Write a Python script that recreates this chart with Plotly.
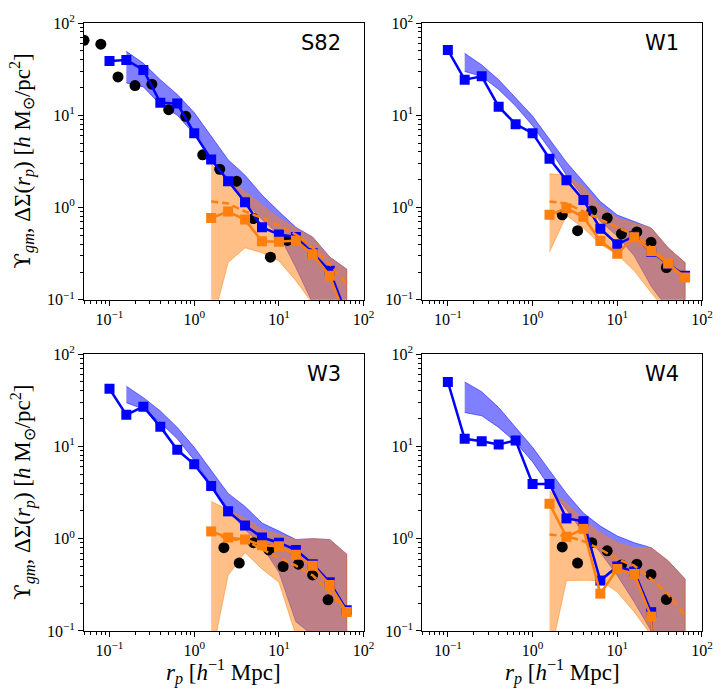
import plotly.graph_objects as go

# ---------------- data ----------------
x_model = [0.1, 0.158, 0.251, 0.398, 0.631, 1.0, 1.585, 2.512, 3.981, 6.31, 10.0, 15.85, 25.12, 39.81, 63.1]
x_band_blue = [0.158, 0.251, 0.398, 0.631, 1.0, 1.585, 2.512, 3.981, 6.31, 10.0, 15.85, 25.12, 39.81, 63.1]
x_band_orange = [1.585, 2.512, 3.981, 6.31, 10.0, 15.85, 25.12, 39.81, 63.1]
x_dots_s82 = [0.05, 0.079, 0.126, 0.2, 0.316, 0.5, 0.794, 1.26, 2.0, 3.16, 5.0, 7.94, 12.6]
x_dots_w = [2.24, 3.4, 5.0, 7.6, 11.2, 17.0, 25.0, 38.0]

panel_names = ["S82", "W1", "W3", "W4"]

# S82
s82_dots = [65, 59, 26, 21, 21.7, 11.5, 9.75, 3.73, 2.6, 1.93, 0.76, 0.29, 0.44]
s82_blue = [38.8, 39.8, 31, 13.7, 13.4, 6.4, 3.32, 1.93, 1.14, 0.61, 0.51, 0.48, 0.32, 0.206, 0.068]
s82_orange = [0.77, 0.906, 0.74, 0.43, 0.425, 0.44, 0.311, 0.182, 0.06]
s82_orange_dash = [1.16, 1.11, 0.906, 0.77, 0.64, 0.51, 0.366, 0.243, 0.148]
s82_blue_hi = [49.3, 36.6, 24.3, 16.8, 10.7, 6.0, 3.3, 2.24, 1.37, 0.906, 0.61, 0.477, 0.291, 0.215]
s82_blue_lo = [22.4, 20.3, 13.1, 10.0, 6.25, 3.5, 1.9, 1.16, 0.74, 0.51, 0.224, 0.091, 0.05, 0.03]
s82_orange_hi = [2.94, 2.06, 1.48, 1.07, 0.77, 0.6, 0.47, 0.29, 0.215]
s82_orange_lo = [0.05, 0.253, 0.366, 0.324, 0.264, 0.161, 0.09, 0.05, 0.05]

# W1
w1_dots = [0.834, 0.562, 0.92, 0.77, 0.52, 0.544, 0.42, 0.224]
w1_blue = [50.9, 24.3, 26.4, 12.4, 8.0, 6.4, 3.38, 1.98, 1.21, 0.59, 0.40, 0.489, 0.332, 0.243, 0.182]
w1_orange = [0.834, 0.98, 0.794, 0.433, 0.316, 0.477, 0.338, 0.247, 0.175]
w1_orange_dash = [1.16, 1.11, 0.906, 0.74, 0.61, 0.51, 0.366, 0.25, 0.161]
w1_blue_hi = [46.9, 35.1, 24.3, 15.5, 9.8, 5.5, 3.1, 1.9, 1.16, 0.83, 0.71, 0.6, 0.366, 0.253]
w1_blue_lo = [29.8, 26.4, 19.0, 12.6, 7.7, 4.3, 2.24, 1.31, 0.71, 0.49, 0.30, 0.14, 0.08, 0.05]
w1_orange_hi = [2.33, 2.24, 1.68, 1.03, 0.77, 0.68, 0.6, 0.366, 0.253]
w1_orange_lo = [0.33, 0.82, 0.6, 0.4, 0.31, 0.206, 0.12, 0.07, 0.05]

# W3
w3_dots = [0.8, 0.545, 0.906, 0.757, 0.5, 0.53, 0.405, 0.218]
w3_blue = [42.2, 22, 27, 16.4, 9.2, 6.4, 3.73, 1.98, 1.39, 1.03, 0.906, 0.757, 0.53, 0.338, 0.168]
w3_orange = [1.2, 1.03, 0.98, 0.85, 0.83, 0.67, 0.51, 0.316, 0.161]
w3_orange_dash = [1.2, 0.98, 0.97, 0.77, 0.625, 0.51, 0.4, 0.264, 0.161]
w3_blue_hi = [45, 33.8, 24.3, 16.1, 9.8, 5.5, 3.1, 2.24, 1.48, 1.21, 0.98, 1.0, 0.98, 0.68]
w3_blue_lo = [29.8, 25.4, 18.2, 12.1, 7.1, 3.8, 2.06, 1.26, 0.83, 0.433, 0.126, 0.09, 0.08, 0.07]
w3_orange_hi = [2.54, 2.06, 1.68, 1.26, 1.11, 0.98, 1.0, 0.98, 0.68]
w3_orange_lo = [0.05, 0.4, 0.71, 0.47, 0.338, 0.09, 0.05, 0.05, 0.05]

# W4
w4_dots = [0.815, 0.545, 0.906, 0.74, 0.52, 0.53, 0.41, 0.22]
w4_blue = [50, 12.1, 11.4, 10.5, 11.6, 3.92, 3.92, 1.66, 1.55, 0.352, 0.5, 0.44, 0.16, 1e-6, 1e-6]
w4_orange = [2.39, 1.05, 1.28, 0.254, 0.47, 0.415, 0.143, 1e-6, 1e-6]
w4_orange_dash = [1.11, 1.07, 0.94, 0.77, 0.6, 0.51, 0.366, 0.25, 0.146]
w4_blue_hi = [50, 39.2, 26.4, 16.1, 9.8, 5.5, 3.1, 1.9, 1.37, 1.07, 0.906, 0.8, 0.577, 0.366]
w4_blue_lo = [23.3, 21.5, 16.1, 11.1, 6.8, 3.67, 2.06, 1.16, 0.71, 0.4, 0.206, 0.1, 0.07, 0.05]
w4_orange_hi = [3.3, 2.43, 1.61, 1.16, 0.906, 0.8, 0.8, 0.577, 0.366]
w4_orange_lo = [0.05, 0.352, 0.355, 0.352, 0.264, 0.161, 0.09, 0.05, 0.05]

major_vals = [0.1, 1, 10, 100]
major_text = ["10<sup>−1</sup>", "10<sup>0</sup>", "10<sup>1</sup>", "10<sup>2</sup>"]

panels = [
    dict(name="S82", xd=x_dots_s82, dots=s82_dots, blue=s82_blue, orange=s82_orange, dash=s82_orange_dash,
         bhi=s82_blue_hi, blo=s82_blue_lo, ohi=s82_orange_hi, olo=s82_orange_lo),
    dict(name="W1", xd=x_dots_w, dots=w1_dots, blue=w1_blue, orange=w1_orange, dash=w1_orange_dash,
         bhi=w1_blue_hi, blo=w1_blue_lo, ohi=w1_orange_hi, olo=w1_orange_lo),
    dict(name="W3", xd=x_dots_w, dots=w3_dots, blue=w3_blue, orange=w3_orange, dash=w3_orange_dash,
         bhi=w3_blue_hi, blo=w3_blue_lo, ohi=w3_orange_hi, olo=w3_orange_lo),
    dict(name="W4", xd=x_dots_w, dots=w4_dots, blue=w4_blue, orange=w4_orange, dash=w4_orange_dash,
         bhi=w4_blue_hi, blo=w4_blue_lo, ohi=w4_orange_hi, olo=w4_orange_lo),
]

# ---------------- layout geometry ----------------
W, H = 725, 699
ml, mr, mt, mb = 84, 20, 16, 68
pw, ph = W - ml - mr, H - mt - mb
x_domains = [[0, 281 / pw], [(424 - ml) / pw, 1]]
y_domains = [[(631 - 296) / ph, 1], [0, (631 - 351) / ph]]

BLUE = "#0000ff"
ORANGE = "#ff7f0e"
tickfont = dict(family="Liberation Serif", size=16, color="black")

minor_vals = []
for dec in [0.01, 0.1, 1, 10]:
    for m in range(2, 10):
        minor_vals.append(m * dec)

fig = go.Figure()

for i, p in enumerate(panels):
    r, c = divmod(i, 2)
    k = "" if i == 0 else str(i + 1)
    xa, ya = "x" + k, "y" + k
    # model bands
    fig.add_trace(go.Scatter(x=x_band_blue + x_band_blue[::-1], y=p["bhi"] + p["blo"][::-1],
                             fill="toself", fillcolor="rgba(0,0,255,0.5)", mode="lines",
                             line=dict(color="rgba(0,0,255,0.5)", width=1), xaxis=xa, yaxis=ya,
                             showlegend=False, hoverinfo="skip"))
    fig.add_trace(go.Scatter(x=x_band_orange + x_band_orange[::-1], y=p["ohi"] + p["olo"][::-1],
                             fill="toself", fillcolor="rgba(255,127,14,0.5)", mode="lines",
                             line=dict(color="rgba(255,127,14,0.5)", width=1), xaxis=xa, yaxis=ya,
                             showlegend=False, hoverinfo="skip"))
    # black points
    fig.add_trace(go.Scatter(x=p["xd"], y=p["dots"], mode="markers",
                             marker=dict(color="black", size=11, symbol="circle", line=dict(width=0)),
                             xaxis=xa, yaxis=ya, showlegend=False))
    # blue measurement
    fig.add_trace(go.Scatter(x=x_model, y=p["blue"], mode="lines+markers",
                             line=dict(color=BLUE, width=2.5),
                             marker=dict(color=BLUE, size=10, symbol="square", line=dict(width=0)),
                             xaxis=xa, yaxis=ya, showlegend=False))
    # orange dashed
    fig.add_trace(go.Scatter(x=x_band_orange, y=p["dash"], mode="lines",
                             line=dict(color=ORANGE, width=2.5, dash="7px,4px"),
                             xaxis=xa, yaxis=ya, showlegend=False))
    # orange measurement
    fig.add_trace(go.Scatter(x=x_band_orange, y=p["orange"], mode="lines+markers",
                             line=dict(color=ORANGE, width=2.5),
                             marker=dict(color=ORANGE, size=10, symbol="square", line=dict(width=0)),
                             xaxis=xa, yaxis=ya, showlegend=False))

    axcommon = dict(type="log", showgrid=False, zeroline=False, showline=True, mirror=True,
                    linecolor="black", linewidth=1, ticks="outside", ticklen=5, tickwidth=1,
                    tickcolor="black", tickmode="array", tickvals=major_vals, ticktext=major_text,
                    tickfont=tickfont,
                    minor=dict(tickmode="array", tickvals=minor_vals, ticks="outside", ticklen=3,
                               tickwidth=1, tickcolor="black", showgrid=False))
    fig.update_layout(**{
        "xaxis" + k: dict(axcommon, domain=x_domains[c], range=[-1.30103, 2], anchor=ya),
        "yaxis" + k: dict(axcommon, domain=y_domains[r], range=[-1, 2], anchor=xa),
    })
    fig.add_annotation(text=p["name"], xref=xa + " domain", yref=ya + " domain",
                       x=(344 - 84) / 281, y=(296 - 36) / 280, xanchor="right", yanchor="middle",
                       showarrow=False, font=dict(family="DejaVu Sans", size=21, color="black"))

ylab = ("<span style='font-family:DejaVu Serif'>ϒ</span><sub><i>gm</i></sub>, ΔΣ(<i>r</i><sub><i>p</i></sub>) "
        "[<i>h</i> M<sub>⊙</sub>/pc<sup>2</sup>]")
xlab = "<i>r</i><sub><i>p</i></sub> [<i>h</i><sup>−1</sup> Mpc]"
labfont = dict(family="Liberation Serif", size=23, color="black")
for r in range(2):
    fig.add_annotation(text=ylab, xref="paper", yref="paper", x=(22 - ml) / pw,
                       y=sum(y_domains[r]) / 2, textangle=-90, showarrow=False,
                       xanchor="center", yanchor="middle", font=labfont)
for c, xa in enumerate(["x3", "x4"]):
    fig.add_annotation(text=xlab, xref=xa + " domain", yref="paper", x=0.5,
                       y=(631 - 672) / ph, showarrow=False, xanchor="center", yanchor="middle",
                       font=labfont)

fig.update_layout(width=W, height=H, margin=dict(l=ml, r=mr, t=mt, b=mb),
                  paper_bgcolor="white", plot_bgcolor="white", showlegend=False)

fig.write_html("out.html")
